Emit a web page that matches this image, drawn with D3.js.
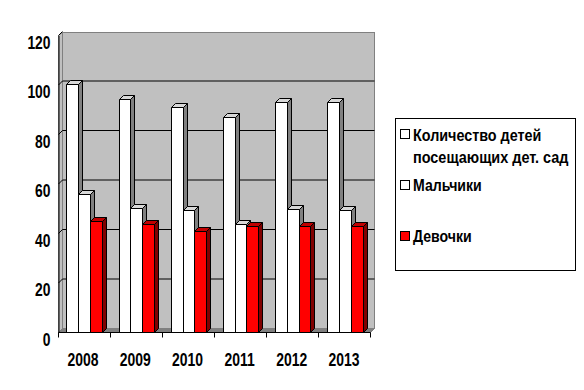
<!doctype html>
<html lang="ru">

<head>
    <meta charset="utf-8">
    <title>Количество детей</title>
    <script src="https://cdnjs.cloudflare.com/ajax/libs/d3/7.8.5/d3.min.js"></script>
    <style>
        html, body { margin: 0; padding: 0; background: #fff; }
        svg { display: block; }
        text {
            font-family: "Liberation Sans", sans-serif;
            font-weight: bold;
            fill: #000;
        }
    </style>
</head>

<body>
    <svg></svg>

    <script>
        var years = ['2008', '2009', '2010', '2011', '2012', '2013'];
        var seriesNames = ['total', 'boys', 'girls'];
        var total = [100.5, 94.5, 91, 87, 93, 93];
        var boys = [56, 50.5, 49.5, 44, 50, 49.5];
        var girls = [45, 44, 41, 43, 43, 43];
        var yTicks = [0, 20, 40, 60, 80, 100, 120];

        var width = 584;
        var height = 390;
        var depth = 4;   // offset of the back wall
        var left = 58.5, right = 370.5, bottom = 332.5, top_ = 35.5;

        var svg = d3.select('svg').attr('width', width).attr('height', height);

        var xScale = d3.scaleBand().domain(years).range([left, right])
            .paddingInner(0.329).paddingOuter(0.153);
        var barScale = d3.scaleBand().domain(seriesNames).range([0, xScale.bandwidth()]);
        var yScale = d3.scaleLinear().domain([0, 120]).range([bottom, top_]);

        var colors = {
            total: { front: '#ffffff', top: '#d8d8d8', side: '#808080' },
            boys: { front: '#ffffff', top: '#d8d8d8', side: '#808080' },
            girls: { front: '#ff0000', top: '#c00000', side: '#800000' }
        };

        function pts(list) { return list.map(function (p) { return p.join(','); }).join(' '); }

        // no narrow bold font here, so squeeze the regular one
        function squeeze(sel, factor) {
            sel.each(function () {
                var t = d3.select(this);
                t.attr('x', (+t.attr('x') || 0) / factor)
                    .attr('transform', 'scale(' + factor + ',1)');
            });
        }

        // walls and floor
        var wallTop = top_ - depth + 1;
        svg.append('polygon')
            .attr('points', pts([[left, bottom], [left + depth, bottom - depth], [left + depth, wallTop], [left, top_]]))
            .attr('fill', '#c0c0c0').attr('stroke', '#808080');
        svg.append('rect')
            .attr('x', left + depth).attr('y', wallTop)
            .attr('width', right - left).attr('height', bottom - depth - wallTop)
            .attr('fill', '#c0c0c0').attr('stroke', '#808080');
        svg.append('polygon')
            .attr('points', pts([[left, bottom], [left + depth, bottom - depth], [right + depth, bottom - depth], [right, bottom]]))
            .attr('fill', '#808080').attr('stroke', '#808080');

        // gridlines on the back wall, with the little diagonals down to the axis
        svg.append('g').selectAll('line.grid')
            .data(yTicks.filter(function (d) { return d > 0 && d < 120; }))
            .enter().append('line')
            .attr('x1', left + depth).attr('x2', right + depth)
            .attr('y1', function (d) { return yScale(d) - depth; })
            .attr('y2', function (d) { return yScale(d) - depth; })
            .attr('stroke', '#000');
        svg.append('g').selectAll('line')
            .data(yTicks.filter(function (d) { return d > 0; }))
            .enter().append('line')
            .attr('x1', left).attr('x2', left + depth)
            .attr('y1', function (d) { return yScale(d); })
            .attr('y2', function (d) { return yScale(d) - depth; })
            .attr('stroke', '#000');

        // bars, drawn left to right so each front covers the previous side
        var seriesValues = { total: total, boys: boys, girls: girls };
        years.forEach(function (year, i) {
            seriesNames.forEach(function (name) {
                var x0 = Math.round(xScale(year) + barScale(name)) + 0.5;
                var x1 = Math.round(xScale(year) + barScale(name) + barScale.bandwidth()) + 0.5;
                var y0 = Math.round(yScale(seriesValues[name][i])) + 0.5;
                var c = colors[name];
                var g = svg.append('g').attr('stroke', '#000').attr('stroke-linejoin', 'round');
                g.append('polygon')
                    .attr('points', pts([[x1, y0], [x1 + depth, y0 - depth], [x1 + depth, bottom - depth], [x1, bottom]]))
                    .attr('fill', c.side);
                g.append('polygon')
                    .attr('points', pts([[x0, y0], [x0 + depth, y0 - depth], [x1 + depth, y0 - depth], [x1, y0]]))
                    .attr('fill', c.top);
                g.append('rect')
                    .attr('x', x0).attr('y', y0)
                    .attr('width', x1 - x0).attr('height', bottom - y0)
                    .attr('fill', c.front);
            });
        });

        // y axis
        var yAxis = d3.axisLeft(yScale).tickValues(yTicks).tickSize(0).tickPadding(8);
        var yG = svg.append('g').attr('transform', 'translate(' + left + ',0)').call(yAxis);
        yG.select('.domain').attr('stroke', '#000');
        yG.selectAll('text')
            .attr('font-size', 18).attr('font-family', null)
            .attr('dy', 12.5)
            .call(squeeze, 0.77);

        // x axis: labels centred in the bands, ticks on the band boundaries
        var xAxis = d3.axisBottom(xScale).tickSize(0);
        var xG = svg.append('g').attr('transform', 'translate(-1,' + bottom + ')').call(xAxis);
        xG.select('.domain').remove();
        xG.selectAll('text')
            .attr('font-size', 18).attr('font-family', null)
            .attr('y', 34).attr('dy', 0)
            .call(squeeze, 0.775);
        svg.append('line')
            .attr('x1', left).attr('x2', right).attr('y1', bottom).attr('y2', bottom)
            .attr('stroke', '#000');
        var edges = d3.range(years.length + 1).map(function (i) { return left + i * (right - left) / years.length; });
        svg.append('g').selectAll('line')
            .data(edges)
            .enter().append('line')
            .attr('x1', function (d) { return d; })
            .attr('x2', function (d) { return d; })
            .attr('y1', bottom).attr('y2', bottom + 5)
            .attr('stroke', '#000');

        // legend
        svg.append('rect')
            .attr('x', 395.5).attr('y', 118.5).attr('width', 180).attr('height', 152)
            .attr('fill', '#fff').attr('stroke', '#000');
        var legendRows = [
            { name: 'total', swatchY: 129.5, lines: [['Количество детей', 141, 0.845], ['посещающих дет. сад', 163, 0.85]] },
            { name: 'boys', swatchY: 180.5, lines: [['Мальчики', 191, 0.83]] },
            { name: 'girls', swatchY: 231.5, lines: [['Девочки', 242, 0.83]] }
        ];
        legendRows.forEach(function (row) {
            svg.append('rect')
                .attr('x', 400.5).attr('y', row.swatchY).attr('width', 9).attr('height', 9)
                .attr('fill', colors[row.name].front).attr('stroke', '#000');
            row.lines.forEach(function (l) {
                svg.append('text')
                    .attr('x', 413).attr('y', l[1])
                    .attr('font-size', 17)
                    .text(l[0])
                    .call(squeeze, l[2]);
            });
        });
    </script>

</body>

</html>
